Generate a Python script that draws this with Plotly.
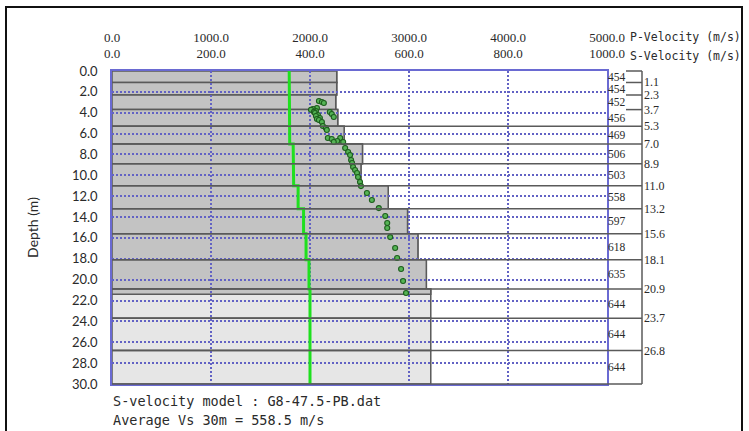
import plotly.graph_objects as go

# ---- layered velocity model ----
layer_top = [0.0, 1.1, 2.3, 3.7, 5.3, 7.0, 8.9, 11.0, 13.2, 15.6, 18.1, 20.9, 23.7, 26.8]
layer_bottom = [1.1, 2.3, 3.7, 5.3, 7.0, 8.9, 11.0, 13.2, 15.6, 18.1, 20.9, 23.7, 26.8, 30.0]
vs_layer = [454, 454, 452, 456, 469, 506, 503, 558, 597, 618, 635, 644, 644, 644]
vp_layer = [1790, 1790, 1790, 1790, 1795, 1830, 1835, 1880, 1935, 1960, 1990, 2000, 2000, 2000]
investigation_depth = 21.4

# ---- observed dispersion points (phase velocity, depth) ----
disp_velocity = [418, 424, 428, 414, 406, 402, 412, 408, 410, 440, 444, 448, 416, 412, 420,
                 414, 418, 424, 426, 432, 434, 436, 461, 444, 455, 448, 467, 471, 477,
                 481, 483, 485, 487, 491, 495, 497, 501, 503, 515, 525, 539, 552, 556,
                 556, 562, 572, 576, 584, 588, 594]
disp_depth = [2.88, 2.97, 3.07, 3.55, 3.64, 3.72, 3.84, 3.92, 4.03, 3.93, 4.12, 4.41, 4.22, 4.32,
              4.51, 4.60, 4.70, 4.89, 5.27, 5.47, 5.66, 6.42, 6.42, 6.52, 6.71, 6.81, 6.81,
              7.38, 7.77, 8.05, 8.53, 8.82, 9.20, 9.49, 9.78, 10.16, 10.64, 11.03, 11.70,
              12.37, 13.14, 13.90, 14.57, 15.05, 15.92, 16.97, 17.93, 18.98, 20.13, 21.28]

vs_ticks = [0, 200, 400, 600, 800, 1000]
vp_ticks = [0, 1000, 2000, 3000, 4000, 5000]
depth_ticks = list(range(0, 31, 2))

model_name = "G8-47.5-PB.dat"
vs30_text = "558.5"

# ---- page geometry (pixels) ----
W, H = 749, 431
L, R, T, B = 112, 142, 71, 47
PW, PH = W - L - R, H - T - B


def px_x(px):
    return (px - L) / PW


def px_y(py):
    return (H - B - py) / PH


FRAME = "#6a6ad2"
GRID = "#6262c4"
TEXT = "#2a2a2a"
EDGE = "#5a5a5a"
SERIF = "Liberation Serif"
MONO = "DejaVu Sans Mono"

fig = go.Figure()

# P-velocity profile (step line)
vp_x, vp_y = [], []
for top, bot, vp in zip(layer_top, layer_bottom, vp_layer):
    vp_x += [vp, vp]
    vp_y += [top, bot]
fig.add_trace(go.Scatter(x=vp_x, y=vp_y, xaxis="x2", yaxis="y", mode="lines",
                         line=dict(color="#1fe01f", width=3), hoverinfo="skip",
                         showlegend=False))

# dispersion points
fig.add_trace(go.Scatter(x=disp_velocity, y=disp_depth, xaxis="x", yaxis="y",
                         mode="markers",
                         marker=dict(size=5, color="#55b455",
                                     line=dict(color="#1d5e1d", width=1.1)),
                         showlegend=False))

shapes = []
# layer boxes: light below the investigation depth, darker above it
for top, bot, vs in zip(layer_top, layer_bottom, vs_layer):
    shapes.append(dict(type="rect", xref="x", yref="y", x0=0, x1=vs, y0=top, y1=bot,
                       fillcolor="#e6e6e6", line=dict(color=EDGE, width=1.5),
                       layer="below"))
for top, bot, vs in zip(layer_top, layer_bottom, vs_layer):
    if top < investigation_depth:
        shapes.append(dict(type="rect", xref="x", yref="y", x0=0, x1=vs, y0=top,
                           y1=min(bot, investigation_depth),
                           fillcolor="#c3c3c3", line=dict(color=EDGE, width=1.5),
                           layer="below"))

# right-hand layer column
col_left, col_label_end, col_right = px_x(L), px_x(626), px_x(642)
thick = [b - t for t, b in zip(layer_top, layer_bottom)]
boundaries = [layer_top[0]] + layer_bottom
for i, d in enumerate(boundaries):
    neighbours = []
    if i > 0:
        neighbours.append(thick[i - 1])
    if i < len(thick):
        neighbours.append(thick[i])
    x0 = col_label_end if min(neighbours) < 1.5 else col_left
    if i == 0:
        shapes.append(dict(type="line", xref="paper", yref="y domain", x0=x0, x1=col_right,
                           y0=1, y1=1, line=dict(color=EDGE, width=1.5)))
    elif i == len(boundaries) - 1:
        shapes.append(dict(type="line", xref="paper", yref="y domain", x0=x0, x1=col_right,
                           y0=0, y1=0, line=dict(color=EDGE, width=1.5)))
    else:
        shapes.append(dict(type="line", xref="paper", yref="y", x0=x0, x1=col_right,
                           y0=d, y1=d, line=dict(color=EDGE, width=1.5)))
shapes.append(dict(type="line", xref="paper", yref="y domain", x0=col_right, x1=col_right,
                   y0=0, y1=1, line=dict(color=EDGE, width=1.5)))

# outer frame
shapes.append(dict(type="rect", xref="paper", yref="paper", x0=px_x(6), x1=px_x(742),
                   y0=px_y(445), y1=px_y(7), line=dict(color="#111111", width=2),
                   fillcolor="rgba(0,0,0,0)"))

annotations = []
for top, bot, vs in zip(layer_top, layer_bottom, vs_layer):
    annotations.append(dict(xref="paper", yref="y", x=px_x(607), y=(top + bot) / 2,
                            text=str(vs), showarrow=False, xanchor="left",
                            yanchor="middle", borderpad=0,
                            font=dict(family=SERIF, size=11.5, color=TEXT)))
for d in layer_bottom[:-1]:
    annotations.append(dict(xref="paper", yref="y", x=px_x(643), y=d,
                            text=f"{d:.1f}", showarrow=False, xanchor="left",
                            yanchor="middle", borderpad=0,
                            font=dict(family=SERIF, size=12, color=TEXT)))

annotations += [
    dict(xref="paper", yref="paper", x=px_x(628), y=px_y(37), text="P-Velocity (m/s)",
         showarrow=False, xanchor="left", yanchor="middle",
         font=dict(family=MONO, size=11.5, color=TEXT)),
    dict(xref="paper", yref="paper", x=px_x(628), y=px_y(56), text="S-Velocity (m/s)",
         showarrow=False, xanchor="left", yanchor="middle",
         font=dict(family=MONO, size=11.5, color=TEXT)),
    dict(xref="paper", yref="paper", x=px_x(111), y=px_y(401),
         text=f"S-velocity model : {model_name}", showarrow=False, xanchor="left",
         yanchor="middle", font=dict(family=MONO, size=13.5, color=TEXT)),
    dict(xref="paper", yref="paper", x=px_x(111), y=px_y(420),
         text=f"Average Vs 30m = {vs30_text} m/s", showarrow=False, xanchor="left",
         yanchor="middle", font=dict(family=MONO, size=13.5, color=TEXT)),
]

fig.update_layout(
    width=W, height=H,
    margin=dict(l=L, r=R, t=T, b=B, pad=0),
    paper_bgcolor="white", plot_bgcolor="white",
    showlegend=False,
    shapes=shapes, annotations=annotations,
    xaxis=dict(range=[0, 1000], side="top", tickvals=vs_ticks,
               ticktext=[f"{v:.1f}" for v in vs_ticks],
               tickfont=dict(family=SERIF, size=13, color=TEXT),
               ticks="", ticklabelstandoff=6,
               showgrid=True, gridcolor=GRID, griddash="2px,2px", gridwidth=1.5,
               showline=True, linecolor=FRAME, linewidth=1.5, mirror=True,
               zeroline=False, fixedrange=True),
    xaxis2=dict(range=[0, 5000], side="top", overlaying="x", anchor="y",
                tickvals=vp_ticks, ticktext=[f"{v:.1f}" for v in vp_ticks],
                tickfont=dict(family=SERIF, size=13, color=TEXT),
                ticks="", ticklabelstandoff=25, showgrid=False, showline=False,
                zeroline=False, fixedrange=True),
    yaxis=dict(range=[30, 0], tickvals=depth_ticks,
               ticktext=[f"{v:.1f}" for v in depth_ticks],
               tickfont=dict(family="Lato", size=13, color=TEXT),
               ticks="", ticklabelstandoff=10,
               title=dict(text="Depth (m)", font=dict(family="Lato", size=14, color=TEXT),
                          standoff=30),
               showgrid=True, gridcolor=GRID, griddash="2px,2px", gridwidth=1.5,
               showline=True, linecolor=FRAME, linewidth=1.5, mirror=True,
               zeroline=False, fixedrange=True),
)

fig.write_html("out.html")
